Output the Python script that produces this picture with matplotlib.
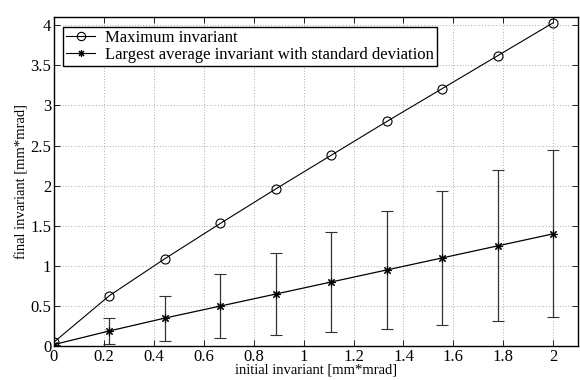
import matplotlib
matplotlib.use("Agg")
import matplotlib.pyplot as plt
from matplotlib.lines import Line2D

plt.rcParams['font.family'] = ['Liberation Serif', 'DejaVu Serif']

x = [0.0, 0.2222, 0.4444, 0.6667, 0.8889, 1.1111, 1.3333, 1.5556, 1.7778, 2.0]
max_inv = [0.05, 0.63, 1.09, 1.53, 1.96, 2.38, 2.80, 3.21, 3.62, 4.03]
avg_inv = [0.02, 0.19, 0.35, 0.50, 0.65, 0.80, 0.95, 1.10, 1.25, 1.40]
std_inv = [0.0, 0.16, 0.28, 0.40, 0.51, 0.62, 0.73, 0.83, 0.94, 1.04]

xticks = [0, 0.2, 0.4, 0.6, 0.8, 1, 1.2, 1.4, 1.6, 1.8, 2]
xticklabels = ['0', '0.2', '0.4', '0.6', '0.8', '1', '1.2', '1.4', '1.6', '1.8', '2']
yticks = [0, 0.5, 1, 1.5, 2, 2.5, 3, 3.5, 4]
yticklabels = ['0', '0.5', '1', '1.5', '2', '2.5', '3', '3.5', '4']

labels = ['Maximum invariant', 'Largest average invariant with standard deviation']

fig = plt.figure(figsize=(5.8, 3.8), dpi=100)
ax = fig.add_axes([0.093, 0.089, 0.904, 0.866])

star = (8, 2, 0)
ax.plot(x, max_inv, color='black', lw=0.8, marker='o', ms=6.5, mfc='none', mew=0.8)
ax.errorbar(x, avg_inv, yerr=std_inv, color='black', lw=0.9, marker=star, ms=6, mew=0.8,
            elinewidth=0.9, capsize=4, capthick=0.9, ecolor='#333333')

ax.set_xlim(0, 2.1)
ax.set_ylim(0, 4.1)
ax.set_xticks(xticks)
ax.set_xticklabels(xticklabels)
ax.set_yticks(yticks)
ax.set_yticklabels(yticklabels)
ax.tick_params(direction='in', top=True, right=True, labelsize=12, length=4, width=0.6, pad=2)
ax.grid(True, linestyle=(0, (1, 3)), color='black', lw=0.5, alpha=0.6)
for s in ax.spines.values():
    s.set_linewidth(1.0)

ax.set_xlabel('initial invariant [mm*mrad]', fontsize=10.5, labelpad=-1)
ax.set_ylabel('final invariant [mm*mrad]', fontsize=10.5, labelpad=1)

handles = [Line2D([], [], color='black', lw=0.8, marker='o', ms=6, mfc='none', mew=0.8),
           Line2D([], [], color='black', lw=0.8, marker=star, ms=5, mew=0.8)]
leg = ax.legend(handles, labels, loc='upper left', bbox_to_anchor=(0.017, 0.970), fontsize=12,
                frameon=True, fancybox=False, edgecolor='black', framealpha=1, borderpad=0.2,
                labelspacing=0.02, handlelength=1.75, handletextpad=0.55, borderaxespad=0)
leg.get_frame().set_linewidth(1.0)

fig.savefig('out.png', dpi=100)
